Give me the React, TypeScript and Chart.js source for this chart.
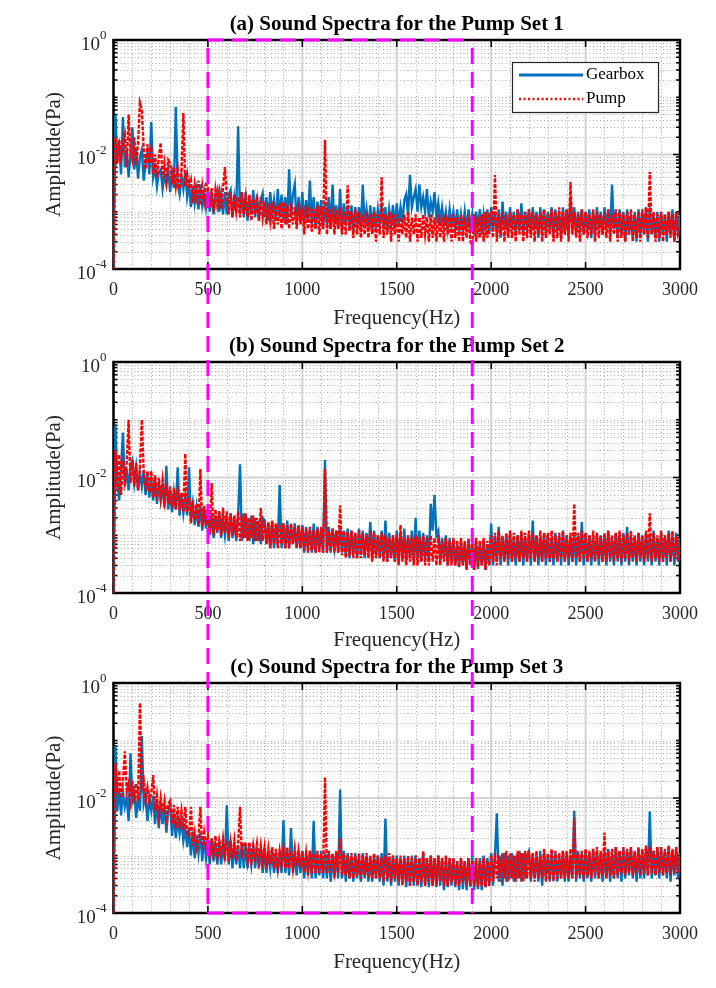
import React, { useEffect, useRef } from "react";
import { Chart, registerables } from "chart.js";

Chart.register(...registerables);

// ---------------- data ----------------
// Spectra sampled every FREQ_STEP_HZ from 0 Hz to 3000 Hz (301 samples, one row = 100 Hz).
// Amplitudes are written in units of 1e-4 Pa (AMP_UNIT_PA).
const FREQ_STEP_HZ = 10;
const AMP_UNIT_PA = 1e-4;

const SERIES_NAMES = ["Gearbox", "Pump"];
const PANEL_TITLES = [
  "(a) Sound Spectra for the Pump Set 1",
  "(b) Sound Spectra for the Pump Set 2",
  "(c) Sound Spectra for the Pump Set 3",
];
const X_AXIS_TITLE = "Frequency(Hz)";
const Y_AXIS_TITLE = "Amplitude(Pa)";
const X_TICKS = [0, 500, 1000, 1500, 2000, 2500, 3000];
const Y_TICK_EXPONENTS = [0, -2, -4];
const HIGHLIGHT_BAND_HZ = [500, 1900];

const GEARBOX_SET1 = [
  1, 500, 90, 140, 45, 450, 60, 120, 40, 100,
  300, 55, 130, 38, 90, 120, 35, 70, 110, 45,
  370, 40, 60, 28, 50, 55, 25, 45, 30, 55,
  22, 48, 26, 680, 30, 20, 42, 25, 50, 18,
  30, 12, 28, 14, 24, 11, 30, 13, 22, 12,
  25, 10, 22, 9, 18, 24, 10, 20, 9, 22,
  9, 20, 24, 8, 18, 10, 310, 9, 22, 8,
  22, 7, 18, 9, 24, 8, 20, 7, 16, 21,
  8, 18, 7, 22, 9, 16, 7, 25, 8, 20,
  7, 18, 6, 55, 8, 20, 30, 6, 18, 7,
  22, 6, 16, 7, 35, 6, 18, 5, 15, 8,
  16, 5, 14, 6, 18, 5, 30, 6, 13, 5,
  25, 5, 14, 6, 12, 5, 13, 4.5, 12, 6,
  12, 5, 30, 6, 11, 5, 13, 4.5, 12, 5,
  11, 6, 13, 5, 12, 4.5, 11, 6, 13, 5,
  14, 6, 12, 7, 16, 20, 9, 44, 12, 18,
  25, 10, 30, 12, 18, 10, 25, 8, 15, 10,
  22, 8, 14, 7, 12, 6, 10, 5, 11, 6,
  10, 5, 11, 4.5, 9, 5, 10, 4.5, 11, 5,
  9, 4, 10, 5, 11, 4, 9, 5, 11, 4,
  12, 5, 10, 4, 11, 3.5, 15, 5, 10, 4,
  12, 5, 10, 4, 11, 5, 14, 4, 10, 5,
  11, 4, 12, 5, 10, 3.5, 12, 4.5, 11, 4,
  10, 5, 12, 4, 11, 5, 10, 3.5, 12, 4,
  11, 4, 18, 5, 12, 4, 10, 5, 11, 4,
  10, 5, 11, 3.5, 10, 4, 12, 5, 10, 4,
  12, 5, 11, 4, 30, 5, 10, 3.5, 11, 4,
  10, 3, 11, 4, 9, 3.5, 10, 3, 11, 4,
  10, 4, 12, 3, 12, 4, 9, 3.5, 10, 3,
  10, 4, 9, 3, 10, 4, 11, 3, 10, 4,
  9,
];
const PUMP_SET1 = [
  1, 200, 70, 180, 90, 150, 220, 60, 500, 110,
  80, 200, 65, 160, 800, 600, 120, 55, 150, 70,
  120, 45, 100, 40, 90, 160, 38, 70, 35, 80,
  70, 30, 60, 28, 55, 25, 50, 530, 28, 45,
  25, 35, 14, 30, 18, 35, 13, 28, 15, 30,
  28, 12, 26, 10, 24, 13, 22, 11, 26, 60,
  20, 9, 22, 8, 20, 10, 18, 8, 22, 9,
  18, 8, 20, 7, 17, 9, 16, 7, 18, 8,
  15, 6, 14, 7, 15, 5, 13, 6, 14, 5,
  15, 6, 13, 5, 14, 6, 12, 5, 14, 6,
  12, 4, 13, 5, 12, 4.5, 11, 5, 13, 4,
  12, 5, 180, 4, 11, 5, 12, 4, 11, 5,
  12, 4, 10, 4, 29, 4.5, 10, 3.5, 11, 4,
  10, 3.5, 9, 4, 10, 3.5, 9, 4, 10, 3,
  9, 4, 40, 3.5, 9, 4, 10, 3, 9, 4,
  9, 3, 8, 4, 9, 3.5, 10, 3, 8, 4,
  9, 3, 8, 3.5, 9, 4, 8, 3, 9, 3.5,
  8, 3, 9, 3.5, 8, 3, 9, 4, 8, 3,
  9, 3.5, 8, 3, 9, 3, 8, 3.5, 9, 3,
  2.6, 9, 3, 8, 3.5, 9, 3, 10, 3.5, 9,
  10, 3.5, 44, 3, 9, 4, 10, 3, 9, 3.5,
  10, 3.5, 9, 3, 11, 4, 9, 3, 10, 3.5,
  11, 3.5, 10, 3, 9, 4, 10, 3, 11, 3.5,
  9, 4, 11, 3, 10, 3.5, 12, 3, 10, 4,
  11, 3, 33, 4, 10, 3.5, 9, 3, 11, 4,
  10, 3.5, 9, 4, 11, 3, 10, 3.5, 9, 4,
  10, 3.5, 11, 3, 9, 4, 11, 3, 10, 3.5,
  9, 3, 10, 4, 11, 3, 9, 3.5, 10, 3,
  11, 4, 12, 3.5, 50, 4, 10, 3, 9, 3.5,
  10, 3, 9, 4, 10, 3.5, 9, 3, 10, 4,
  5,
];
const GEARBOX_SET2 = [
  1, 800, 90, 40, 150, 600, 70, 140, 60, 160,
  200, 80, 150, 60, 120, 70, 130, 50, 110, 45,
  90, 40, 100, 35, 80, 40, 70, 30, 160, 28,
  60, 25, 55, 28, 150, 22, 50, 24, 45, 22,
  150, 18, 35, 15, 30, 14, 32, 12, 30, 13,
  26, 10, 24, 9, 22, 11, 26, 9, 20, 10,
  22, 8, 24, 9, 20, 8, 22, 170, 8, 24,
  9, 20, 8, 22, 7, 20, 8, 18, 7, 20,
  18, 7, 16, 6, 17, 6, 15, 7, 74, 6,
  16, 6, 18, 6, 15, 7, 16, 6, 14, 6,
  15, 5, 14, 6, 13, 5, 16, 5, 14, 6,
  13, 5, 200, 5, 14, 5, 13, 6, 12, 5,
  14, 5, 12, 4.5, 13, 4, 12, 5, 11, 4,
  13, 4.5, 12, 4, 11, 5, 17, 4, 12, 4.5,
  10, 4, 12, 4, 18, 3.5, 11, 4, 10, 3.5,
  12, 3.5, 11, 4, 13, 3.5, 10, 4, 12, 3.5,
  20, 4, 12, 3.5, 11, 4, 10, 3.5, 35, 12,
  50, 10, 12, 3.5, 9, 4, 10, 3, 9, 3.5,
  8, 3, 7, 2.8, 8, 3, 7, 2.6, 8, 3,
  7, 2.5, 8, 2.6, 7, 3, 8, 2.5, 7, 3,
  16, 3, 10, 3.5, 14, 3, 9, 3.5, 10, 3,
  11, 3.5, 9, 3, 10, 3.5, 11, 3, 9, 3.5,
  10, 3, 18, 3.5, 10, 3, 9, 3.5, 11, 3,
  10, 3.5, 9, 3, 11, 3.5, 10, 3, 12, 3.5,
  10, 3, 9, 3.5, 11, 3, 10, 3.5, 17, 3,
  11, 3.5, 10, 3, 9, 3.5, 11, 3, 10, 3.5,
  10, 3, 12, 3.5, 9, 3, 11, 3.5, 10, 3,
  11, 3.5, 14, 3, 10, 3.5, 9, 3, 11, 3.5,
  10, 3, 11, 3.5, 10, 3, 12, 3.5, 9, 3,
  11, 3.5, 10, 3, 12, 3.5, 10, 3, 11, 3.5,
  9,
];
const PUMP_SET2 = [
  1, 300, 60, 250, 50, 200, 90, 180, 1000, 80,
  200, 70, 180, 60, 150, 1000, 120, 70, 130, 55,
  130, 45, 110, 40, 100, 45, 90, 40, 80, 35,
  70, 30, 65, 28, 60, 30, 55, 26, 260, 25,
  45, 16, 40, 18, 35, 15, 140, 14, 32, 15,
  30, 11, 80, 10, 28, 12, 26, 10, 30, 11,
  26, 9, 24, 10, 22, 9, 26, 8, 22, 9,
  24, 8, 20, 9, 22, 8, 20, 8, 30, 8,
  18, 7, 17, 6, 18, 7, 16, 6, 15, 7,
  16, 6, 15, 6, 16, 7, 14, 6, 15, 6,
  14, 5.5, 13, 5, 14, 5.5, 12, 5, 13, 5,
  14, 5, 140, 5, 12, 5.5, 13, 5, 12, 5,
  33, 4.5, 12, 4, 11, 4.5, 12, 4, 11, 4,
  12, 4, 11, 4.5, 10, 4, 12, 3.5, 11, 4,
  10, 4, 11, 3.5, 10, 3.5, 9, 4, 10, 3.5,
  10, 3, 15, 3.5, 9, 3, 10, 3.5, 9, 3,
  10, 3, 9, 3.5, 10, 3, 9, 3, 10, 3.5,
  9, 3, 10, 3, 8, 3.5, 9, 3, 8, 3,
  9, 3, 8, 2.8, 9, 3, 8, 2.5, 9, 3,
  8, 2.5, 9, 2.8, 8, 3, 9, 2.5, 8, 3,
  10, 3.5, 11, 3, 12, 4, 10, 3.5, 11, 4,
  12, 3.5, 11, 4, 10, 3.5, 12, 4, 11, 3.5,
  12, 4, 11, 3.5, 10, 4, 12, 3.5, 11, 4,
  11, 3.5, 12, 4, 10, 3.5, 11, 4, 12, 3.5,
  10, 4, 11, 3.5, 35, 4, 11, 3.5, 12, 4,
  11, 3.5, 10, 4, 12, 3.5, 11, 4, 10, 3.5,
  11, 3.5, 12, 4, 10, 3.5, 11, 4, 12, 3.5,
  10, 4, 11, 3.5, 12, 4, 10, 3.5, 11, 4,
  10, 3.5, 12, 4, 24, 3.5, 11, 4, 10, 3.5,
  12, 3.5, 10, 4, 11, 3.5, 12, 4, 10, 3.5,
  8,
];
const GEARBOX_SET3 = [
  1, 800, 60, 150, 50, 130, 70, 100, 40, 600,
  90, 130, 45, 110, 60, 1200, 80, 120, 40, 100,
  60, 110, 35, 90, 30, 80, 35, 70, 25, 60,
  80, 22, 55, 20, 45, 24, 40, 18, 30, 14,
  30, 10, 26, 9, 22, 11, 25, 8, 20, 9,
  18, 7, 20, 8, 16, 7, 18, 7, 15, 8,
  75, 7, 18, 6, 16, 7, 15, 6, 17, 6,
  16, 6, 14, 7, 15, 6, 13, 6, 14, 5,
  13, 5, 12, 6, 13, 5, 11, 5, 12, 5,
  41, 5, 12, 4.5, 30, 5, 11, 4.5, 12, 5,
  12, 4, 11, 4.5, 12, 4, 40, 4, 11, 4.5,
  12, 4, 11, 4, 12, 3.5, 10, 4, 11, 4,
  140, 4, 12, 3.5, 11, 4, 10, 3.5, 11, 4,
  10, 3.5, 11, 4, 10, 3.5, 9, 3.5, 10, 4,
  10, 3.5, 11, 3, 44, 3.5, 9, 3, 10, 3.5,
  10, 3, 9, 3.5, 10, 2.8, 9, 3, 10, 3,
  10, 3, 9, 2.8, 11, 3, 9, 2.8, 10, 3,
  9, 2.8, 10, 3, 9, 2.5, 8, 2.8, 9, 3,
  9, 2.8, 8, 2.5, 9, 2.6, 8, 2.5, 9, 2.8,
  10, 2.5, 8, 2.6, 9, 2.5, 10, 2.8, 9, 3,
  11, 3, 10, 54, 3.5, 10, 3, 11, 3.5, 10,
  4, 11, 3.5, 10, 4, 12, 3.5, 11, 4, 10,
  12, 3.5, 11, 4, 10, 3.5, 12, 3, 11, 4,
  10, 3.5, 12, 4, 11, 3.5, 10, 4, 12, 3.5,
  11, 3.5, 10, 4, 60, 3.5, 12, 4, 11, 3.5,
  12, 4, 11, 3.5, 13, 4, 12, 4, 11, 3.5,
  12, 4, 13, 3.5, 11, 4, 14, 4, 12, 3.5,
  13, 4, 12, 4.5, 14, 4, 11, 3.5, 13, 4,
  12, 4, 13, 4.5, 58, 4, 12, 4.5, 14, 4,
  13, 4.5, 12, 4, 14, 3.5, 12, 4.5, 13, 4,
  10,
];
const PUMP_SET3 = [
  1, 400, 120, 300, 100, 200, 650, 130, 180, 90,
  200, 80, 180, 90, 4500, 150, 200, 90, 150, 85,
  120, 250, 60, 110, 50, 100, 55, 90, 45, 80,
  90, 35, 75, 30, 70, 35, 60, 28, 70, 25,
  22, 70, 15, 25, 14, 22, 70, 13, 25, 14,
  22, 10, 20, 11, 22, 10, 18, 11, 20, 10,
  18, 8, 17, 9, 18, 8, 16, 70, 9, 17,
  16, 8, 17, 8, 15, 9, 16, 8, 15, 8,
  14, 6, 13, 7, 14, 6, 13, 6, 12, 7,
  13, 6, 14, 6, 12, 6, 13, 6.5, 12, 6,
  12, 5, 11, 5.5, 12, 5, 11, 5, 12, 5,
  11, 5, 230, 5, 12, 5, 11, 5.5, 12, 5,
  20, 4.5, 11, 4.5, 10, 4, 11, 4, 10, 4.5,
  11, 4, 10, 4.5, 11, 4, 10, 4, 11, 4,
  10, 4, 9, 3.5, 10, 4, 11, 3.5, 10, 4,
  9, 3.5, 10, 3, 9, 3.5, 10, 3, 9, 3.5,
  10, 3, 9, 3.5, 12, 3, 9, 3.5, 10, 3,
  9, 3, 10, 3.5, 9, 3, 10, 3, 9, 3.5,
  9, 3, 8, 3, 9, 3.5, 8, 3, 9, 3,
  8, 3, 9, 2.8, 8, 3, 9, 2.8, 8, 3,
  10, 3.5, 11, 4, 10, 3.5, 11, 4, 12, 3.5,
  11, 4, 10, 3.5, 12, 4, 11, 3.5, 12, 4,
  12, 4, 11, 3.5, 12, 4, 10, 4, 13, 3.5,
  11, 4, 13, 3.5, 12, 4, 11, 4, 12, 4,
  12, 4, 13, 4, 45, 4, 11, 4.5, 12, 4,
  13, 4.5, 12, 4, 13, 4.5, 14, 4, 12, 4.5,
  25, 4, 12, 4.5, 13, 4, 14, 4.5, 12, 5,
  14, 4.5, 13, 5, 14, 4.5, 12, 5, 14, 4.5,
  13, 5, 15, 4.5, 14, 5, 12, 4.5, 14, 5,
  14, 4.5, 13, 5, 15, 4.5, 13, 5, 14, 5,
  11,
];

const GEARBOX_SERIES = [GEARBOX_SET1, GEARBOX_SET2, GEARBOX_SET3];
const PUMP_SERIES = [PUMP_SET1, PUMP_SET2, PUMP_SET3];

// ---------------- style / layout ----------------
const SERIF = '"Liberation Serif", "Times New Roman", Times, serif';
const INK = "#262626";
const BLUE = "#0072BD";
const RED = "#FF0000";
const MAGENTA = "#FF00FF";
const CANVAS_W = 700;

const PANEL_LAYOUT = [
  { canvasH: 325, titleTop: 4.4, titleBottom: 2.4, xHeight: 64, band: "top", legend: true },
  { canvasH: 322, titleTop: 1.1, titleBottom: 2.7, xHeight: 62, band: "middle", legend: false },
  { canvasH: 322, titleTop: 0.4, titleBottom: 2.4, xHeight: 64, band: "bottom", legend: false },
];

const X_MIN = X_TICKS[0];
const X_MAX = X_TICKS[X_TICKS.length - 1];
const X_MINOR_STEP = 100;
const Y_MIN = Math.pow(10, Math.min(...Y_TICK_EXPONENTS));
const Y_MAX = Math.pow(10, Math.max(...Y_TICK_EXPONENTS));

function toPoints(vals: number[]) {
  return vals.map((v, i) => ({ x: i * FREQ_STEP_HZ, y: v * AMP_UNIT_PA }));
}

function yMinorValues(): number[] {
  const out: number[] = [];
  const lo = Math.min(...Y_TICK_EXPONENTS);
  const hi = Math.max(...Y_TICK_EXPONENTS);
  for (let e = lo; e < hi; e++) {
    for (let m = 1; m <= 9; m++) {
      if (m === 1 && Y_TICK_EXPONENTS.includes(e)) continue;
      out.push(m * Math.pow(10, e));
    }
  }
  return out;
}

const decorPlugin = {
  id: "decor",
  beforeDatasetsDraw(chart: any) {
    const { ctx, chartArea: a } = chart;
    const xs = chart.scales.x;
    const ys = chart.scales.y;
    const minors = yMinorValues();
    ctx.save();

    // minor dotted grid
    ctx.lineWidth = 1;
    ctx.strokeStyle = "#adadad";
    ctx.setLineDash([1, 2.5]);
    ctx.beginPath();
    for (let f = X_MIN + X_MINOR_STEP; f < X_MAX; f += X_MINOR_STEP) {
      if (X_TICKS.includes(f)) continue;
      const px = Math.round(xs.getPixelForValue(f)) + 0.5;
      ctx.moveTo(px, a.top);
      ctx.lineTo(px, a.bottom);
    }
    for (const v of minors) {
      const py = Math.round(ys.getPixelForValue(v)) + 0.5;
      ctx.moveTo(a.left, py);
      ctx.lineTo(a.right, py);
    }
    ctx.stroke();

    // major solid grid
    ctx.setLineDash([]);
    ctx.strokeStyle = "#d3d3d3";
    ctx.lineWidth = 2;
    ctx.beginPath();
    for (const f of X_TICKS) {
      const px = xs.getPixelForValue(f);
      ctx.moveTo(px, a.top);
      ctx.lineTo(px, a.bottom);
    }
    for (const e of Y_TICK_EXPONENTS) {
      const py = ys.getPixelForValue(Math.pow(10, e));
      ctx.moveTo(a.left, py);
      ctx.lineTo(a.right, py);
    }
    ctx.stroke();

    // inward ticks
    ctx.strokeStyle = "#000";
    ctx.lineWidth = 1.5;
    ctx.beginPath();
    for (const f of X_TICKS) {
      const px = xs.getPixelForValue(f);
      ctx.moveTo(px, a.bottom);
      ctx.lineTo(px, a.bottom - 7);
      ctx.moveTo(px, a.top);
      ctx.lineTo(px, a.top + 7);
    }
    for (const e of Y_TICK_EXPONENTS) {
      const py = ys.getPixelForValue(Math.pow(10, e));
      ctx.moveTo(a.left, py);
      ctx.lineTo(a.left + 7, py);
      ctx.moveTo(a.right, py);
      ctx.lineTo(a.right - 7, py);
    }
    for (const v of minors) {
      const py = ys.getPixelForValue(v);
      ctx.moveTo(a.left, py);
      ctx.lineTo(a.left + 4, py);
      ctx.moveTo(a.right, py);
      ctx.lineTo(a.right - 4, py);
    }
    ctx.stroke();

    // box
    ctx.lineWidth = 2.5;
    ctx.strokeRect(a.left, a.top, a.right - a.left, a.bottom - a.top);

    // y tick labels 10^k
    ctx.fillStyle = INK;
    ctx.textBaseline = "middle";
    ctx.textAlign = "left";
    for (const e of Y_TICK_EXPONENTS) {
      const py = ys.getPixelForValue(Math.pow(10, e));
      const sup = e === 0 ? "0" : "-" + Math.abs(e);
      ctx.font = `13px ${SERIF}`;
      const supW = ctx.measureText(sup).width;
      ctx.font = `19px ${SERIF}`;
      const baseW = ctx.measureText("10").width;
      const right = a.left - 7;
      const x0 = right - supW - baseW;
      ctx.fillText("10", x0, py + 5);
      ctx.font = `13px ${SERIF}`;
      ctx.fillText(sup, x0 + baseW, py - 4);
    }
    ctx.restore();
  },
  afterDatasetsDraw(chart: any, _args: any, opts: any) {
    const { ctx, chartArea: a } = chart;
    const xs = chart.scales.x;
    ctx.save();

    if (opts.legend) {
      const w = 146;
      const h = 50;
      const bx = a.right - 22 - w;
      const by = a.top + 22;
      ctx.fillStyle = "#fff";
      ctx.fillRect(bx, by, w, h);
      ctx.strokeStyle = INK;
      ctx.lineWidth = 1.2;
      ctx.strokeRect(bx + 0.5, by + 0.5, w, h);
      const rows = [
        { name: SERIES_NAMES[0], color: BLUE, width: 3.2, dash: [] as number[] },
        { name: SERIES_NAMES[1], color: RED, width: 2.4, dash: [2, 2.5] },
      ];
      rows.forEach((r, i) => {
        const ry = by + 13 + i * 24;
        ctx.strokeStyle = r.color;
        ctx.lineWidth = r.width;
        ctx.setLineDash(r.dash);
        ctx.beginPath();
        ctx.moveTo(bx + 7, ry);
        ctx.lineTo(bx + 71, ry);
        ctx.stroke();
        ctx.setLineDash([]);
        ctx.fillStyle = "#000";
        ctx.font = `17px ${SERIF}`;
        ctx.textBaseline = "middle";
        ctx.textAlign = "left";
        ctx.fillText(r.name, bx + 74, ry);
      });
    }

    // magenta dashed highlight rectangle spanning the three panels
    const px0 = xs.getPixelForValue(HIGHLIGHT_BAND_HZ[0]);
    const px1 = xs.getPixelForValue(HIGHLIGHT_BAND_HZ[1]);
    const role = opts.band;
    const yStart = role === "top" ? a.top : 0;
    const yEnd = role === "bottom" ? a.bottom : chart.height;
    const absTop = chart.canvas.getBoundingClientRect().top + window.scrollY;
    ctx.strokeStyle = MAGENTA;
    ctx.lineWidth = 3;
    ctx.setLineDash([16, 8]);
    ctx.lineDashOffset = absTop + yStart;
    ctx.beginPath();
    ctx.moveTo(px0, yStart);
    ctx.lineTo(px0, yEnd);
    ctx.moveTo(px1, yStart);
    ctx.lineTo(px1, yEnd);
    ctx.stroke();
    if (role === "top" || role === "bottom") {
      const yy = role === "top" ? a.top : a.bottom;
      ctx.lineDashOffset = 0;
      ctx.beginPath();
      ctx.moveTo(px0, yy);
      ctx.lineTo(px1, yy);
      ctx.stroke();
    }
    ctx.restore();
  },
};

function buildConfig(index: number): any {
  const L = PANEL_LAYOUT[index];
  return {
    type: "line",
    data: {
      datasets: [
        {
          label: SERIES_NAMES[0],
          data: toPoints(GEARBOX_SERIES[index]),
          borderColor: BLUE,
          borderWidth: 2.4,
          pointRadius: 0,
          tension: 0,
          order: 1,
        },
        {
          label: SERIES_NAMES[1],
          data: toPoints(PUMP_SERIES[index]),
          borderColor: RED,
          borderWidth: 2.4,
          borderDash: [4, 1.5],
          pointRadius: 0,
          tension: 0,
          order: 0,
        },
      ],
    },
    options: {
      responsive: false,
      animation: false,
      devicePixelRatio: 1,
      events: [],
      layout: { padding: { left: 0, right: 23, top: 0, bottom: 0 } },
      plugins: {
        legend: { display: false },
        tooltip: { enabled: false },
        title: {
          display: true,
          text: PANEL_TITLES[index],
          fullSize: false,
          align: "center",
          color: "#000",
          font: { family: SERIF, size: 21, weight: "bold" },
          padding: { top: L.titleTop, bottom: L.titleBottom },
        },
        decor: { band: L.band, legend: L.legend },
      },
      scales: {
        x: {
          type: "linear",
          min: X_MIN,
          max: X_MAX,
          afterBuildTicks: (s: any) => {
            s.ticks = X_TICKS.map((v) => ({ value: v }));
          },
          ticks: {
            autoSkip: false,
            maxRotation: 0,
            padding: 10,
            color: INK,
            font: { family: SERIF, size: 18 },
            callback: (v: any) => String(v),
          },
          grid: { display: false, drawTicks: false },
          border: { display: false },
          title: {
            display: true,
            text: X_AXIS_TITLE,
            color: INK,
            font: { family: SERIF, size: 21 },
            padding: { top: 0, bottom: 2.4 },
          },
          afterFit: (s: any) => {
            s.height = L.xHeight;
          },
        },
        y: {
          type: "logarithmic",
          min: Y_MIN,
          max: Y_MAX,
          ticks: { display: false },
          grid: { display: false, drawTicks: false },
          border: { display: false },
          title: {
            display: true,
            text: Y_AXIS_TITLE,
            color: INK,
            font: { family: SERIF, size: 21 },
            padding: { top: 33.4, bottom: 0 },
          },
          afterFit: (s: any) => {
            s.width = 105.5;
          },
        },
      },
    },
    plugins: [decorPlugin],
  };
}

function Panel({ index }: { index: number }) {
  const ref = useRef<HTMLCanvasElement | null>(null);
  useEffect(() => {
    if (!ref.current) return;
    const chart = new Chart(ref.current, buildConfig(index));
    return () => chart.destroy();
  }, [index]);
  const L = PANEL_LAYOUT[index];
  return (
    <canvas
      ref={ref}
      width={CANVAS_W}
      height={L.canvasH}
      style={{ display: "block", width: CANVAS_W, height: L.canvasH }}
    />
  );
}

export default function App() {
  return (
    <div style={{ width: CANVAS_W, background: "#fff" }}>
      {PANEL_TITLES.map((_, i) => (
        <Panel key={i} index={i} />
      ))}
    </div>
  );
}
